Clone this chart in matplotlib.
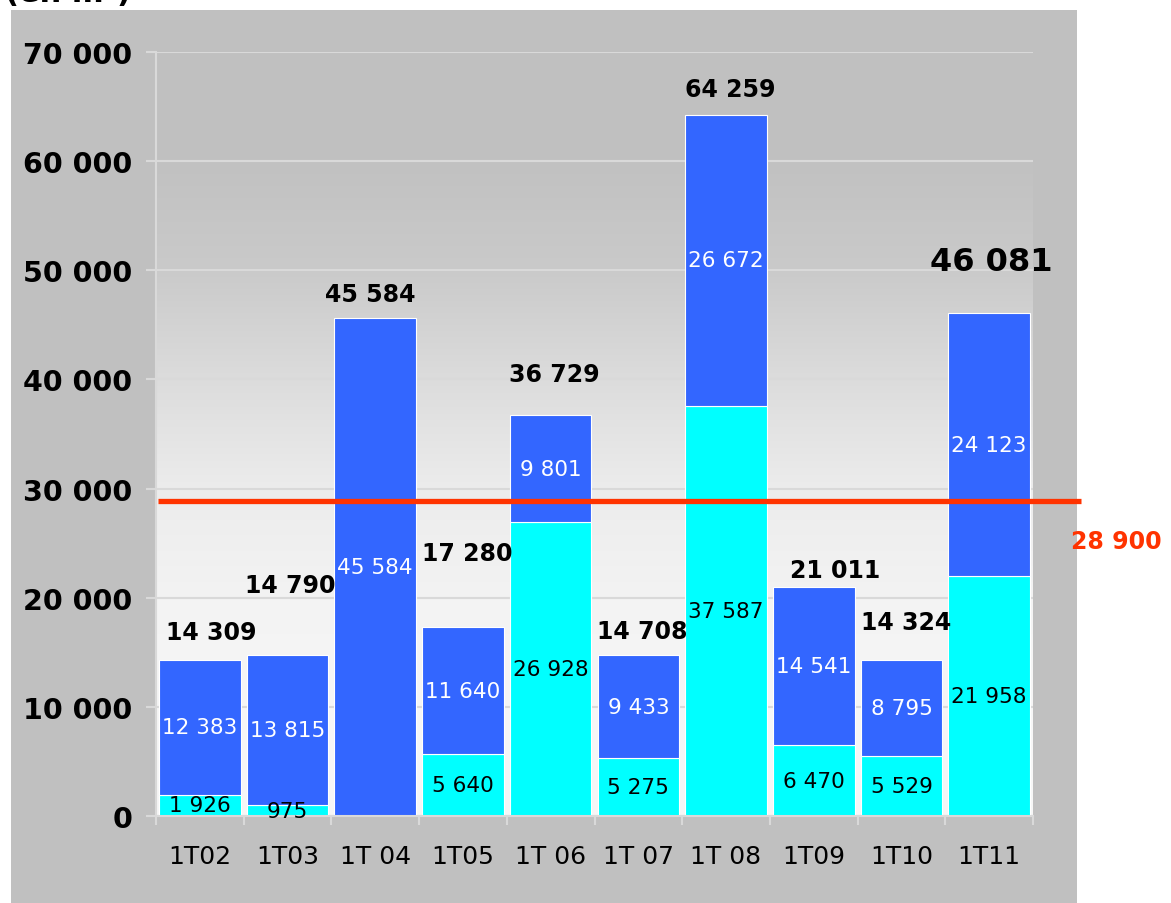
import matplotlib
matplotlib.use("Agg")
import matplotlib.pyplot as plt
import matplotlib.transforms as mtransforms
from matplotlib.patches import Rectangle
import numpy as np

# ---------------- data ----------------
categories = ["1T02", "1T03", "1T 04", "1T05", "1T 06", "1T 07", "1T 08", "1T09", "1T10", "1T11"]
cyan_vals = [1926, 975, 0, 5640, 26928, 5275, 37587, 6470, 5529, 21958]
blue_vals = [12383, 13815, 45584, 11640, 9801, 9433, 26672, 14541, 8795, 24123]
totals = [14309, 14790, 45584, 17280, 36729, 14708, 64259, 21011, 14324, 46081]
reference_value = 28900
y_ticks = [0, 10000, 20000, 30000, 40000, 50000, 60000, 70000]

# label placement offsets (pixels) for the totals
tot_dx = [11, 3, -5, 4, 4, 4, 4, 21, 5, 2]
tot_dy = [28, 70, 24, 74, 41, 24, 26, 17, 38, 52]


def fmt(v):
    return f"{v:,}".replace(",", " ")


W, H = 1171, 904
DPI = 100
PT = 72.0 / DPI  # points per pixel

fig = plt.figure(figsize=(W / DPI, H / DPI), dpi=DPI, facecolor="white")

# gray panel
fig.patches.append(Rectangle((11 / W, 0), (1077 - 11) / W, 1 - 11 / H,
                             transform=fig.transFigure, facecolor="#c0c0c0",
                             edgecolor="none", zorder=-5))

# partially cut title (as in the reference)
fig.text(5 / W, 1 - 8 / H, "(en m²)", fontsize=22, fontweight="bold",
         ha="left", va="bottom", color="black", family="DejaVu Sans")

ax = fig.add_axes([156 / W, 1 - 817 / H, (1033 - 156) / W, (817 - 53) / H])
ax.set_zorder(1)
ax.set_xlim(-0.5, len(categories) - 0.5)
ax.set_ylim(0, 70000)
ax.patch.set_alpha(0)

# gradient background
yy = np.linspace(0, 70000, 600)
gv = np.interp(yy, [0, 10000, 20000, 30000, 40000, 50000, 60000, 70000],
               [247, 246, 243, 236, 220, 202, 193, 192]) / 255.0
img = np.repeat(gv[:, None], 2, axis=1)
img = np.dstack([img, img, img])
ax.imshow(img, extent=[-0.5, len(categories) - 0.5, 0, 70000], origin="lower",
          aspect="auto", zorder=0, interpolation="bilinear")

grid_c = "#d9d9d9"
for t in y_ticks:
    ax.axhline(t, color=grid_c, lw=1.5, zorder=1)

x = np.arange(len(categories))
bw = 0.93
ax.bar(x, cyan_vals, width=bw, color="#00ffff", edgecolor="white", linewidth=0.8, zorder=2)
ax.bar(x, blue_vals, width=bw, bottom=cyan_vals, color="#3366ff", edgecolor="white",
       linewidth=0.8, zorder=2)

# segment labels
seg_fs = 15.5
for i in range(len(categories)):
    c = cyan_vals[i]
    b = blue_vals[i]
    if c > 0:
        ax.text(x[i], c / 2, fmt(c), ha="center", va="center", fontsize=seg_fs,
                color="black", zorder=5)
    if b > 0:
        ax.text(x[i], c + b / 2, fmt(b), ha="center", va="center", fontsize=seg_fs,
                color="white", zorder=5)

# totals
for i, t in enumerate(totals):
    fs = 23 if i == len(totals) - 1 else 17
    ax.annotate(fmt(t), xy=(x[i], t), xytext=(tot_dx[i] * PT, tot_dy[i] * PT),
                textcoords="offset points", ha="center", va="center",
                fontsize=fs, fontweight="bold", color="black", zorder=6,
                annotation_clip=False)

# reference line
red = "#ff3300"
trans = mtransforms.blended_transform_factory(ax.transAxes, ax.transData)
ax.plot([0.002, (1081 - 156) / (1033 - 156)], [reference_value, reference_value],
        transform=trans, color=red, lw=3.8, zorder=4, clip_on=False, solid_capstyle="butt")
ax.annotate(fmt(reference_value), xy=((1071 - 156) / (1033 - 156), reference_value),
            xycoords=trans, xytext=(0, -40 * PT), textcoords="offset points",
            ha="left", va="center", fontsize=17, fontweight="bold", color=red,
            annotation_clip=False)

# axes styling
for s in ["top", "right"]:
    ax.spines[s].set_visible(False)
for s in ["left", "bottom"]:
    ax.spines[s].set_color(grid_c)
    ax.spines[s].set_linewidth(1.5)
    ax.spines[s].set_zorder(3)

ax.set_yticks(y_ticks)
ax.set_yticklabels([fmt(t) for t in y_ticks], fontsize=20.5, fontweight="bold")
ax.tick_params(axis="y", length=10 * PT, width=1.5, color=grid_c, pad=14 * PT)

ax.set_xticks(x)
ax.set_xticklabels(categories, fontsize=18)
ax.tick_params(axis="x", which="major", length=0, pad=28 * PT)
ax.set_xticks(np.arange(-0.5, len(categories) + 0.5, 1), minor=True)
ax.tick_params(axis="x", which="minor", length=9 * PT, width=1.5, color=grid_c)

fig.savefig("out.png", dpi=DPI, facecolor="white")
